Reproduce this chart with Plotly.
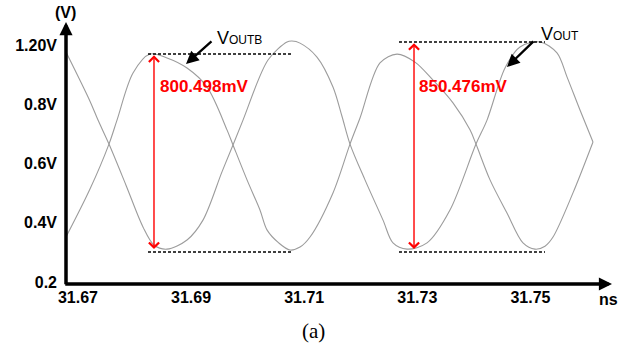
import plotly.graph_objects as go

W, H = 629, 353

# ---- data (time in ns, voltage on the plot's own scale) ----
t_outb = [31.66788, 31.67212, 31.67548, 31.67690, 31.67973, 31.68273, 31.68574, 31.68928, 31.69281, 31.69635,
          31.69741, 31.69989, 31.70218, 31.70342, 31.70550, 31.70749, 31.70926, 31.71103, 31.71509, 31.71810,
          31.71987, 31.72340, 31.72641, 31.72959, 31.73278, 31.73631, 31.73932, 31.74038, 31.74286, 31.74586,
          31.74869, 31.75081, 31.75258, 31.75400, 31.75753, 31.76107]
v_outb = [0.352, 0.514, 0.666, 0.747, 0.906, 0.970, 0.957, 0.923, 0.859, 0.714,
          0.663, 0.545, 0.443, 0.376, 0.332, 0.308, 0.318, 0.352, 0.501, 0.666,
          0.754, 0.940, 0.970, 0.943, 0.882, 0.805, 0.714, 0.666, 0.545, 0.433,
          0.332, 0.311, 0.321, 0.352, 0.501, 0.673]

t_out = [31.66788, 31.67212, 31.67354, 31.67548, 31.67849, 31.68149, 31.68344, 31.68574, 31.68928,
         31.69210, 31.69546, 31.69741, 31.69918, 31.70360, 31.70696, 31.70784, 31.70926, 31.71226, 31.71509,
         31.71668, 31.71810, 31.72075, 31.72394, 31.72570, 31.72818, 31.73172, 31.73578, 31.74038, 31.74233,
         31.74551, 31.74816, 31.75170, 31.75470, 31.75647, 31.75877, 31.76107]
v_out = [0.977, 0.811, 0.747, 0.666, 0.527, 0.386, 0.325, 0.311, 0.342,
         0.409, 0.572, 0.663, 0.747, 0.950, 1.011, 1.014, 1.007, 0.960, 0.859,
         0.760, 0.666, 0.545, 0.409, 0.332, 0.311, 0.332, 0.443, 0.666, 0.747,
         0.923, 0.994, 1.011, 0.974, 0.893, 0.781, 0.673]

xtick_vals = [31.67, 31.69, 31.71, 31.73, 31.75]
xtick_text = ["31.67", "31.69", "31.71", "31.73", "31.75"]
ytick_vals = [0.2, 0.4, 0.6, 0.8, 1.0]
ytick_text = ["0.2", "0.4V", "0.6V", "0.8V", "1.20V"]

# peak-to-peak measurements
meas_text = ["800.498mV", "850.476mV"]
meas_t = [31.68344, 31.72942]
meas_top = [0.970, 1.011]
meas_bot = [0.301, 0.301]
meas_t0 = [31.68238, 31.72676]
meas_t1 = [31.70784, 31.75258]
meas_label_t = [31.68415, 31.72995]
meas_label_v = [0.862, 0.862]

# signal name labels with pointer arrows
name_text = ["V<span style='font-size:12px'>OUTB</span>", "V<span style='font-size:12px'>OUT</span>"]
name_t = [31.69423, 31.75152]
name_v = [1.024, 1.038]
ptr_tail_t = [31.69387, 31.75081]
ptr_tail_v = [1.0176, 1.0176]
ptr_head_t = [31.68910, 31.74586]
ptr_head_v = [0.9365, 0.9264]

X_RANGE = [31.66788, 31.76443]
Y_RANGE = [0.19324, 1.0784]

# plot-area placement in pixels
L, R, T, B = 66, 612, 22, 284

FONT = "Liberation Sans, Arial, sans-serif"

fig = go.Figure()
for tx, vy, nm in ((t_outb, v_outb, "VOUTB"), (t_out, v_out, "VOUT")):
    fig.add_trace(go.Scatter(x=tx, y=vy, mode="lines", name=nm,
                             line=dict(color="#9c9c9c", width=1.1, shape="spline", smoothing=0.9),
                             showlegend=False, hoverinfo="skip"))

shapes = []
annotations = []

# dashed measurement limits
for i in range(len(meas_t)):
    for v in (meas_top[i], meas_bot[i]):
        shapes.append(dict(type="line", xref="x", yref="y", x0=meas_t0[i], x1=meas_t1[i], y0=v, y1=v,
                           line=dict(color="black", width=1.5, dash="3px,2px")))
    # red double-headed arrow
    annotations.append(dict(xref="x", yref="y", axref="x", ayref="y",
                            x=meas_t[i], y=meas_top[i] - 0.004, ax=meas_t[i], ay=meas_bot[i] + 0.005,
                            showarrow=True, arrowhead=4, startarrowhead=4, arrowside="end+start",
                            arrowsize=1.4, startarrowsize=1.4, arrowwidth=1.4, arrowcolor="#ff0000",
                            standoff=0, startstandoff=0, text=""))
    annotations.append(dict(xref="x", yref="y", x=meas_label_t[i], y=meas_label_v[i],
                            xanchor="left", yanchor="middle", showarrow=False,
                            text="<b>%s</b>" % meas_text[i],
                            font=dict(family=FONT, size=17, color="#ff0000")))

# signal names + pointer arrows
for i in range(len(name_t)):
    annotations.append(dict(xref="x", yref="y", x=name_t[i], y=name_v[i], xanchor="left", yanchor="middle",
                            showarrow=False, text=name_text[i],
                            font=dict(family=FONT, size=18, color="black")))
    annotations.append(dict(xref="x", yref="y", axref="x", ayref="y",
                            x=ptr_head_t[i], y=ptr_head_v[i], ax=ptr_tail_t[i], ay=ptr_tail_v[i],
                            showarrow=True, arrowhead=2, arrowsize=1.1, arrowwidth=2.3,
                            arrowcolor="black", standoff=0, text=""))

# axes with arrowheads
annotations.append(dict(xref="x", yref="y", axref="x", ayref="y",
                        x=X_RANGE[1], y=Y_RANGE[0], ax=X_RANGE[0] - 0.0004, ay=Y_RANGE[0],
                        showarrow=True, arrowhead=2, arrowsize=0.75, arrowwidth=3.5,
                        arrowcolor="black", standoff=0, text=""))
annotations.append(dict(xref="x", yref="y", axref="x", ayref="y",
                        x=X_RANGE[0], y=Y_RANGE[1], ax=X_RANGE[0], ay=Y_RANGE[0] - 0.006,
                        showarrow=True, arrowhead=2, arrowsize=0.75, arrowwidth=3.5,
                        arrowcolor="black", standoff=0, text=""))

# axis titles and caption
annotations.append(dict(xref="paper", yref="paper", x=65 / W, y=1 - 13 / H, xanchor="center", yanchor="middle",
                        showarrow=False, text="<b>(V)</b>", font=dict(family=FONT, size=16, color="black")))
annotations.append(dict(xref="paper", yref="paper", x=608 / W, y=1 - 299 / H, xanchor="center", yanchor="middle",
                        showarrow=False, text="<b>ns</b>", font=dict(family=FONT, size=16, color="black")))
annotations.append(dict(xref="paper", yref="paper", x=313 / W, y=1 - 331 / H, xanchor="center", yanchor="middle",
                        showarrow=False, text="(a)",
                        font=dict(family="Liberation Serif, Times New Roman, serif", size=21, color="black")))

fig.update_layout(
    width=W, height=H,
    margin=dict(l=0, r=0, t=0, b=0),
    paper_bgcolor="white", plot_bgcolor="white",
    shapes=shapes, annotations=annotations,
    xaxis=dict(domain=[L / W, R / W], range=X_RANGE, tickmode="array",
               tickvals=xtick_vals, ticktext=["<b>%s</b>" % s for s in xtick_text],
               tickfont=dict(family=FONT, size=16, color="black"),
               showgrid=False, zeroline=False, showline=False, ticks="", automargin=False,
               ticklabelstandoff=2),
    yaxis=dict(domain=[1 - B / H, 1 - T / H], range=Y_RANGE, tickmode="array",
               tickvals=ytick_vals, ticktext=["<b>%s</b>" % s for s in ytick_text],
               tickfont=dict(family=FONT, size=16, color="black"),
               showgrid=False, zeroline=False, showline=False, ticks="", automargin=False,
               ticklabelstandoff=8),
)

fig.write_html("out.html")
